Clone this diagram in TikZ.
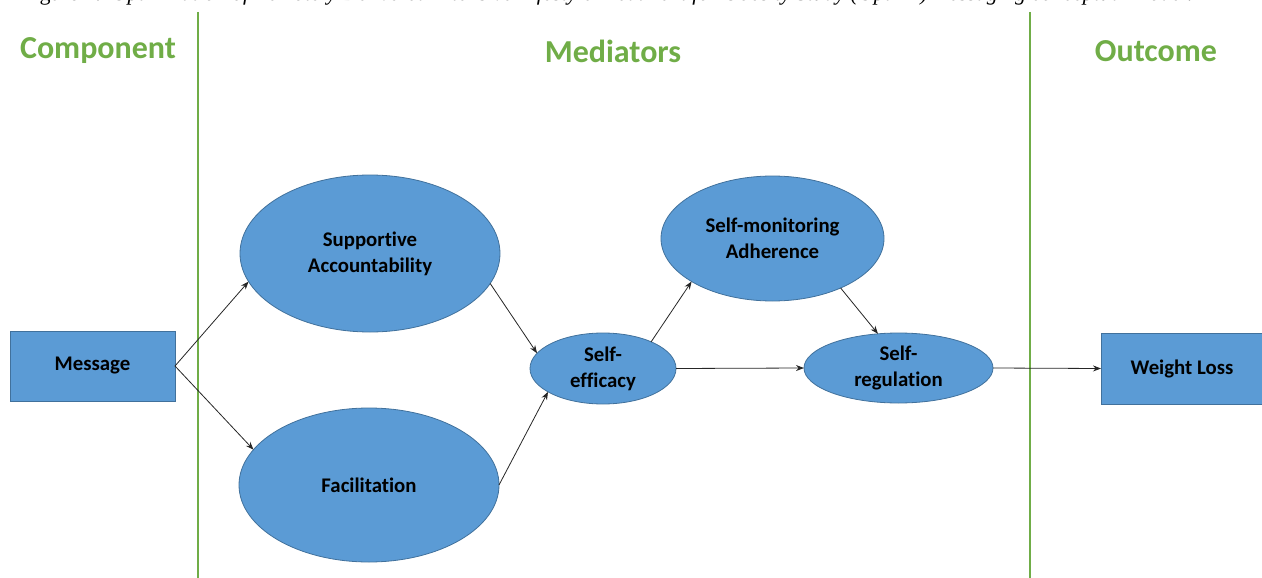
\documentclass[tikz,border=0pt]{standalone}
\usepackage{fontspec}
\setmainfont{Carlito}[Ligatures={NoCommon}]
\newfontfamily\capfont{Liberation Serif}
\usetikzlibrary{shapes.geometric,arrows.meta}
\definecolor{boxblue}{HTML}{5B9BD5}
\definecolor{boxedge}{HTML}{41719C}
\definecolor{hdrgreen}{HTML}{70AD47}
\tikzset{
  blueell/.style={ellipse, fill=boxblue, draw=boxedge, line width=0.8pt, inner sep=0pt, outer sep=0pt, align=center, font=\fontsize{20.8}{26}\selectfont\bfseries},
  bluebox/.style={rectangle, fill=boxblue, draw=boxedge, line width=0.8pt, inner sep=0pt, outer sep=0pt, align=center, font=\fontsize{20.8}{26}\selectfont\bfseries},
  hdr/.style={text=hdrgreen, font=\fontsize{32}{36}\selectfont\bfseries, inner sep=0pt},
  divider/.style={draw=hdrgreen, line width=1.6pt},
  conn/.style={draw=black!85, line width=0.8pt, -{Stealth[length=8pt,width=6pt]}},
}
\begin{document}
\begin{tikzpicture}[x=1pt,y=-1pt]
\useasboundingbox (0,0) rectangle (1262,578);
\begin{scope}
\clip (0,0) rectangle (1262,578);
\node[anchor=base east, inner sep=0pt, font=\capfont\fontsize{22}{26}\selectfont] (caption) at (1193,1) {Figure 2.\ \ \textit{Optimization of Remotely Delivered Intensive Lifestyle Treatment for Obesity Study (Opt-IN) messaging conceptual model.}};
\end{scope}
% dividers
\coordinate (d1t) at (198,12);
\coordinate (d1b) at (198,578);
\coordinate (d2t) at (1030,12);
\coordinate (d2b) at (1030,578);
\draw[divider] (d1t) -- (d1b);
\draw[divider] (d2t) -- (d2b);
% headers
\node[hdr] (hcomp) at (98,51) {Component};
\node[hdr] (hmed) at (613,51) {Mediators};
\node[hdr] (hout) at (1156,51) {Outcome};
% nodes
\node[bluebox, minimum width=165pt, minimum height=70pt] (msg) at (92.5,366) {Message};
\node[blueell, minimum width=260pt, minimum height=157pt] (sa) at (370,253.5) {Supportive\\Accountability};
\node[blueell, minimum width=260pt, minimum height=154pt] (fac) at (369,485) {Facilitation};
\node[blueell, minimum width=146pt, minimum height=71pt] (se) at (603,368.5) {Self-\\efficacy};
\node[blueell, minimum width=223pt, minimum height=125pt] (sma) at (772.5,238.5) {Self-monitoring\\Adherence};
\node[blueell, minimum width=189pt, minimum height=70pt] (sr) at (898.5,368) {Self-\\regulation};
\node[bluebox, minimum width=162pt, minimum height=71pt] (wl) at (1182,368.5) {Weight Loss};
% connectors
\draw[conn] (msg.east) -- (sa.193);
\draw[conn] (msg.east) -- (fac.163.6);
\draw[conn] (sa.346) -- (se.167);
\draw[conn] (fac.0) -- (se.203);
\draw[conn] (se.29) -- (sma.208);
\draw[conn] (se.east) -- (sr.west);
\draw[conn] (sma.324) -- (sr.121.6);
\draw[conn] (sr.east) -- (wl.west);
\end{tikzpicture}
\end{document}
